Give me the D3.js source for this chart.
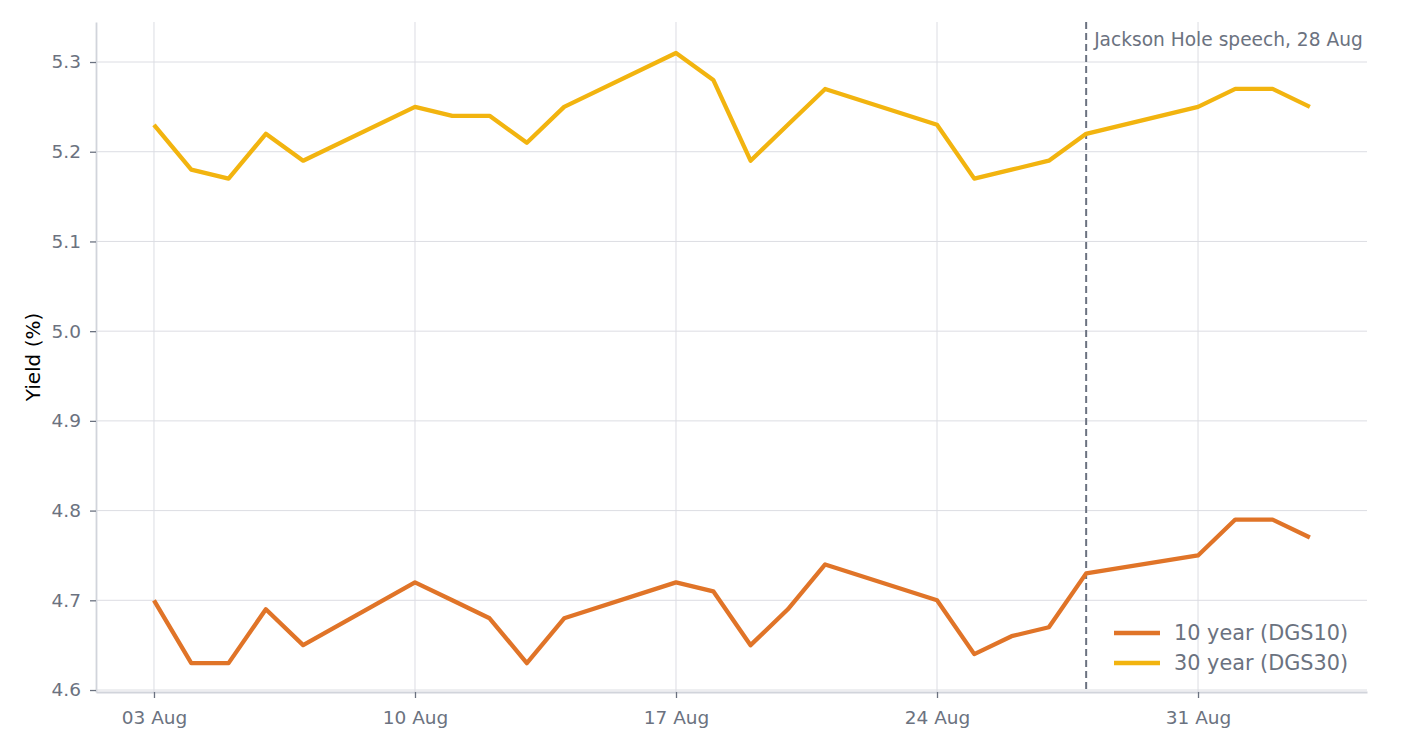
<!DOCTYPE html>
<html>
<head>
<meta charset="utf-8">
<script src="https://cdn.jsdelivr.net/npm/d3@7"></script>
<style>
  body { margin: 0; background: #fff; }
  svg { font-family: "DejaVu Sans", sans-serif; }
</style>
</head>
<body>
<svg id="chart" width="1425" height="750"></svg>
<script>
// trading days (2023), yields
var dates = ['2023-08-03', '2023-08-04', '2023-08-05', '2023-08-06', '2023-08-07',
  '2023-08-10', '2023-08-11', '2023-08-12', '2023-08-13', '2023-08-14',
  '2023-08-17', '2023-08-18', '2023-08-19', '2023-08-20', '2023-08-21',
  '2023-08-24', '2023-08-25', '2023-08-26', '2023-08-27', '2023-08-28',
  '2023-08-31', '2023-09-01', '2023-09-02', '2023-09-03'];
var dgs10 = [4.70, 4.63, 4.63, 4.69, 4.65, 4.72, 4.70, 4.68, 4.63, 4.68,
  4.72, 4.71, 4.65, 4.69, 4.74, 4.70, 4.64, 4.66, 4.67, 4.73,
  4.75, 4.79, 4.79, 4.77];
var dgs30 = [5.23, 5.18, 5.17, 5.22, 5.19, 5.25, 5.24, 5.24, 5.21, 5.25,
  5.31, 5.28, 5.19, 5.23, 5.27, 5.23, 5.17, 5.18, 5.19, 5.22,
  5.25, 5.27, 5.27, 5.25];
var seriesNames = ['10 year (DGS10)', '30 year (DGS30)'];
var xTickDates = ['2023-08-03', '2023-08-10', '2023-08-17', '2023-08-24', '2023-08-31'];
var yTicks = [4.6, 4.7, 4.8, 4.9, 5.0, 5.1, 5.2, 5.3];
var eventDate = '2023-08-28';
var eventLabel = 'Jackson Hole speech, 28 Aug';

var parse = d3.utcParse('%Y-%m-%d');
var DAY = 864e5;
var colors = ['#e07428', '#f2b40f'];
var gray = '#6b7280';

var svg = d3.select('#chart');
var plotL = 96, plotR = 1367, plotT = 22, plotB = 692;

// x domain padded around first/last tick date
var xScale = d3.scaleUtc()
  .domain([new Date(+parse('2023-08-03') - 1.555 * DAY), new Date(+parse('2023-08-31') + 4.532 * DAY)])
  .range([plotL, plotR]);
var yScale = d3.scaleLinear().domain([4.5978, 5.3446]).range([plotB, plotT]);

// gridlines
svg.append('g').selectAll('line')
  .data(yTicks).enter().append('line')
  .attr('x1', plotL).attr('x2', plotR)
  .attr('y1', function(d) { return yScale(d); })
  .attr('y2', function(d) { return yScale(d); })
  .attr('stroke', '#dcdde3').attr('stroke-width', 1);
svg.append('g').selectAll('line')
  .data(xTickDates).enter().append('line')
  .attr('x1', function(d) { return xScale(parse(d)); })
  .attr('x2', function(d) { return xScale(parse(d)); })
  .attr('y1', plotT).attr('y2', plotB)
  .attr('stroke', '#dcdde3').attr('stroke-width', 1);

// axes
var xAxis = d3.axisBottom(xScale)
  .tickValues(xTickDates.map(parse))
  .tickFormat(d3.utcFormat('%d %b'))
  .tickSize(6).tickSizeOuter(0).tickPadding(13);
var yAxis = d3.axisLeft(yScale)
  .tickValues(yTicks)
  .tickFormat(d3.format('.1f'))
  .tickSize(6).tickSizeOuter(0).tickPadding(9);

var gx = svg.append('g').attr('transform', 'translate(0,' + plotB + ')').call(xAxis);
var gy = svg.append('g').attr('transform', 'translate(' + plotL + ',0)').call(yAxis);
[gx, gy].forEach(function(g) {
  g.select('.domain').attr('stroke', '#d1d4db').attr('stroke-width', 1.8);
  g.selectAll('.tick line').attr('stroke', gray).attr('stroke-width', 1.3);
  g.selectAll('.tick text').attr('fill', gray).style('font-size', '18.5px')
    .style('font-family', '"DejaVu Sans", sans-serif');
});

svg.append('text')
  .attr('transform', 'translate(40,357) rotate(-90)')
  .attr('text-anchor', 'middle')
  .style('font-size', '20px')
  .attr('fill', '#000')
  .text('Yield (%)');

// event marker
var ex = xScale(parse(eventDate));
svg.append('line')
  .attr('x1', ex).attr('x2', ex).attr('y1', plotT).attr('y2', plotB)
  .attr('stroke', gray).attr('stroke-width', 2).attr('stroke-dasharray', '7,4');
svg.append('text')
  .attr('x', ex + 8).attr('y', 46)
  .attr('fill', gray).style('font-size', '18.6px')
  .text(eventLabel);

// lines
var line = d3.line()
  .x(function(d) { return xScale(parse(d.date)); })
  .y(function(d) { return yScale(d.v); });
[dgs10, dgs30].forEach(function(vals, i) {
  var pts = dates.map(function(d, j) { return { date: d, v: vals[j] }; });
  svg.append('path')
    .datum(pts)
    .attr('d', line)
    .attr('fill', 'none')
    .attr('stroke', colors[i])
    .attr('stroke-width', 4.3)
    .attr('stroke-linejoin', 'round');
});

// legend
var leg = svg.append('g').selectAll('g')
  .data(seriesNames).enter().append('g')
  .attr('transform', function(d, i) { return 'translate(1114,' + (633 + i * 30) + ')'; });
leg.append('line')
  .attr('x1', 0).attr('x2', 46)
  .attr('stroke', function(d, i) { return colors[i]; })
  .attr('stroke-width', 4.3);
leg.append('text')
  .attr('x', 60).attr('dy', '0.35em')
  .attr('fill', gray).style('font-size', '20.8px')
  .text(function(d) { return d; });
</script>
</body>
</html>
